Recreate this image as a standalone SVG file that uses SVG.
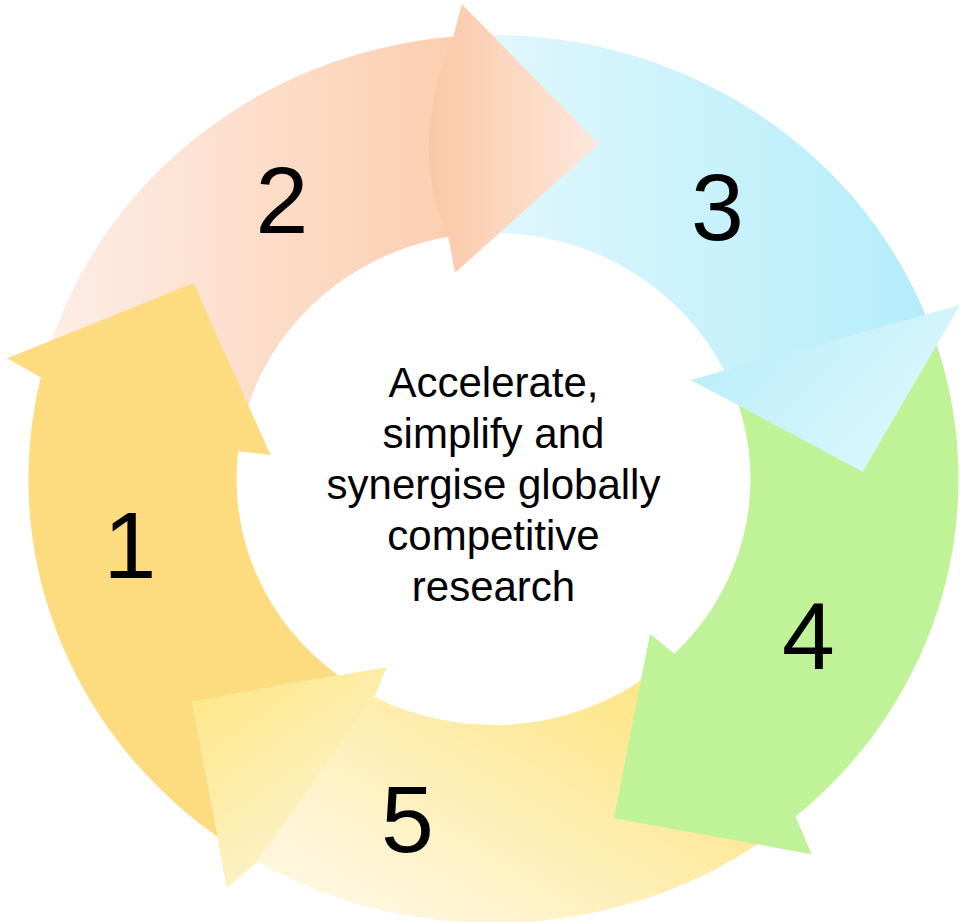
<svg xmlns="http://www.w3.org/2000/svg" width="960" height="922" viewBox="0 0 960 922">
<defs>
<linearGradient id="g2body" gradientUnits="userSpaceOnUse" x1="40" y1="0" x2="470" y2="0">
<stop offset="0" stop-color="#FDEEE7"/><stop offset="1" stop-color="#FCCDAE"/>
</linearGradient>
<linearGradient id="g2head" gradientUnits="userSpaceOnUse" x1="430" y1="0" x2="599" y2="0">
<stop offset="0" stop-color="#FBC8A6"/><stop offset="1" stop-color="#FDE8DD"/>
</linearGradient>
<linearGradient id="g3body" gradientUnits="userSpaceOnUse" x1="480" y1="0" x2="930" y2="0">
<stop offset="0" stop-color="#E1F7FD"/><stop offset="1" stop-color="#B3EDFA"/>
</linearGradient>
<linearGradient id="g3head" gradientUnits="userSpaceOnUse" x1="720" y1="320" x2="880" y2="470">
<stop offset="0" stop-color="#B8EEFB"/><stop offset="1" stop-color="#DCF6FD"/>
</linearGradient>
<linearGradient id="g5body" gradientUnits="userSpaceOnUse" x1="560" y1="680" x2="420" y2="920">
<stop offset="0" stop-color="#FDE78E"/><stop offset="1" stop-color="#FFF6DB"/>
</linearGradient>
<linearGradient id="g5head" gradientUnits="userSpaceOnUse" x1="200" y1="700" x2="320" y2="870">
<stop offset="0" stop-color="#FDE88A"/><stop offset="1" stop-color="#FEF3D0"/>
</linearGradient>
</defs>
<style>
.num{font-family:"Liberation Sans",Arial,sans-serif;font-size:95px;fill:#000;text-anchor:middle}
.center{font-family:"Liberation Sans",Arial,sans-serif;font-size:42px;fill:#000;text-anchor:middle}
</style>
<g id="connectors"/>
<g id="arrow5">
<path d="M 773.3,833.6 A 465 444 0 0 1 257.5,861.6 L 374.4,697.0 A 257 246 0 0 0 648.2,675.5 Z" fill="url(#g5body)"/>
<path d="M 374.4,697.0 L 386.7,667.3 L 192.7,700.7 L 226.7,888.3 L 257.5,861.6 Z" fill="url(#g5head)"/>
<text class="num" x="407.5" y="852">5</text>
</g>
<g id="arrow4">
<path d="M 933.2,334.5 A 465 444 0 0 1 795.5,816.6 L 811.7,854.3 L 614,818.3 L 650,634 L 674.4,653.7 A 257 246 0 0 0 736.5,398.9 Z" fill="#C0F297"/>
<text class="num" x="808.5" y="669">4</text>
</g>
<g id="arrow3">
<path d="M 477.3,35.3 A 465 444 0 0 1 927.6,319.9 L 725.5,373.1 A 257 246 0 0 0 484.5,233.1 Z" fill="url(#g3body)"/>
<path d="M 690.7,380 L 960,305 L 862.7,471.7 Z" fill="url(#g3head)"/>
<text class="num" x="717.5" y="240">3</text>
</g>
<g id="arrow2">
<path d="M 46.5,356.6 A 465 444 0 0 1 469.2,35.6 L 462.2,234.8 A 257 246 0 0 0 246.5,411.2 Z" fill="url(#g2body)"/>
<path d="M 453.3,36.7 L 461.7,4 L 599,144 L 455,272.7 L 448.3,236.8 Q 407,146 453.3,36.7 Z" fill="url(#g2head)"/>
<text class="num" x="282" y="233">2</text>
</g>
<g id="arrow1">
<path d="M 217.6,836.8 A 465 444 0 0 1 40.8,377.6 L 7.3,358.3 L 193.3,283.3 L 270.7,455 L 238.2,451.2 A 257 246 0 0 0 338.2,675.4 L 192.4,701.2 Z" fill="#FDDB7F"/>
<text class="num" x="130" y="578">1</text>
</g>
<g id="hub">
<text class="center" x="493.5" y="397">Accelerate,</text>
<text class="center" x="493.5" y="448">simplify and</text>
<text class="center" x="493.5" y="499">synergise globally</text>
<text class="center" x="493.5" y="550">competitive</text>
<text class="center" x="493.5" y="601">research</text>
</g>
</svg>
